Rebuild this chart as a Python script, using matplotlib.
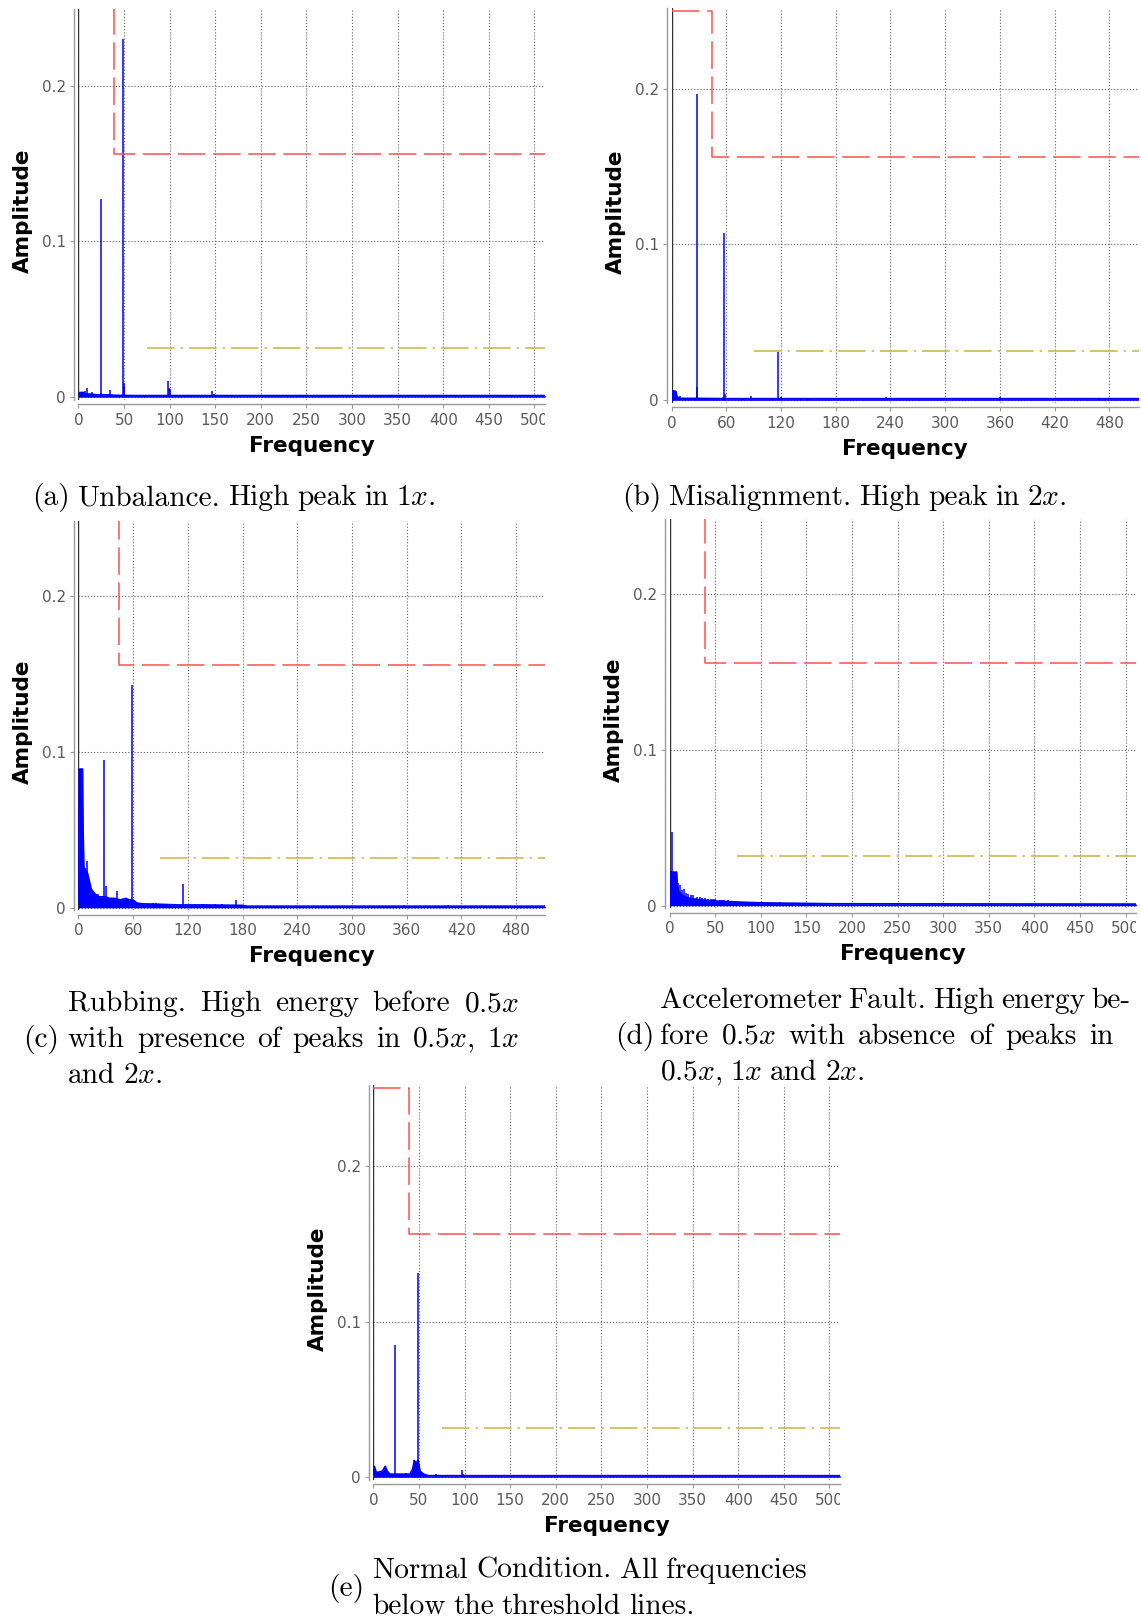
import matplotlib
matplotlib.use("Agg")
import matplotlib.pyplot as plt
from matplotlib.transforms import Bbox

plt.rcParams["mathtext.fontset"] = "cm"
plt.rcParams["font.family"] = ["DejaVu Sans"]

# ---- spectrum data (frequency in Hz, amplitude) ----
freq_max = 512

# (a) unbalance
unb_floor_f = [0, 2, 5, 8, 12, 20, 30, 40, 60, 512]
unb_floor_a = [0.002, 0.003, 0.003, 0.002, 0.002, 0.0015, 0.0015, 0.0012, 0.001, 0.001]
unb_peak_f = [3, 7, 9.8, 15, 24.3, 25.2, 33, 35, 48.6, 49.5, 50.3, 72, 73.5,
              98.7, 99.5, 100.3, 122, 147, 148.5, 197, 200, 245, 343]
unb_peak_a = [0.003, 0.004, 0.006, 0.0035, 0.127, 0.003, 0.002, 0.0045, 0.2296, 0.009, 0.0075, 0.0015, 0.0015,
              0.0107, 0.006, 0.005, 0.0015, 0.0043, 0.002, 0.0015, 0.0015, 0.0015, 0.0013]

# (b) misalignment
mis_floor_f = [0, 0.5, 4.5, 6, 10, 30, 60, 512]
mis_floor_a = [0.003, 0.0058, 0.0058, 0.002, 0.0012, 0.0012, 0.001, 0.001]
mis_peak_f = [2, 3.5, 9, 16, 20, 27.5, 28.3, 34, 48, 56, 57.7, 58.5, 78, 87,
              109, 112, 116.3, 119.8, 142, 148, 151, 235, 360.5, 469]
mis_peak_a = [0.0068, 0.006, 0.003, 0.0012, 0.0012, 0.1968, 0.0086, 0.0015, 0.0015, 0.002, 0.1073, 0.004, 0.0015, 0.003,
              0.0012, 0.0012, 0.031, 0.002, 0.0015, 0.0012, 0.0012, 0.002, 0.002, 0.0012]

# (c) rubbing
rub_floor_f = [0, 1, 4.5, 5, 6, 7.5, 10, 12, 14, 18, 22, 26, 30, 34, 40, 46, 52, 56, 60,
               64, 70, 90, 110, 140, 180, 185, 512]
rub_floor_a = [0.004, 0.089, 0.089, 0.052, 0.025, 0.025, 0.022, 0.017, 0.012, 0.009, 0.007, 0.007, 0.007,
               0.006, 0.006, 0.005, 0.006, 0.005, 0.005, 0.003, 0.0025, 0.0022, 0.0018, 0.0018, 0.0015, 0.001, 0.001]
rub_peak_f = [9.8, 21, 28.6, 29.8, 42.7, 52.5, 58.3, 82, 85, 95.5, 115, 128, 136, 150, 158, 165, 172.7, 357, 405]
rub_peak_a = [0.030, 0.009, 0.0948, 0.0137, 0.0107, 0.006, 0.143, 0.0028, 0.003, 0.0026, 0.0155,
              0.0022, 0.0022, 0.0025, 0.0025, 0.002, 0.005, 0.0015, 0.0015]

# (d) accelerometer fault
acc_floor_f = [0, 0.5, 7.8, 8.5, 10, 14, 20, 30, 45, 60, 80, 100, 140, 180, 512]
acc_floor_a = [0.003, 0.0215, 0.0215, 0.013, 0.009, 0.0065, 0.005, 0.004, 0.0032, 0.0027, 0.0022,
               0.0018, 0.0015, 0.0012, 0.001]
acc_peak_f = [1.5, 3.1, 6.7, 9, 11.8, 13.7, 16, 18.4, 20.8, 23.5, 26.3, 30.2, 33, 35.7, 39.2, 42, 45,
              47.9, 50.2, 55, 57.7, 59.7, 63.6, 66.7, 69.5, 72.6, 76, 79.3, 82, 85.2, 88.3, 91.4, 95,
              99.7, 103, 107.5, 112, 115.8, 121, 125, 130, 134.6, 139, 144, 149, 156.6, 166.8, 170.7, 220.6]
acc_peak_a = [0.0225, 0.0474, 0.0215, 0.0146, 0.0135, 0.0103, 0.0107, 0.0082, 0.0077, 0.0071, 0.0067,
              0.0056, 0.0054, 0.0049, 0.0047, 0.0045, 0.0045, 0.0045, 0.0043, 0.0039, 0.0039, 0.0035,
              0.0034, 0.003, 0.0028, 0.0028, 0.0026, 0.0026, 0.0024, 0.0024, 0.0021, 0.0021, 0.0026,
              0.0024, 0.002, 0.0018, 0.0018, 0.0018, 0.0021, 0.0018, 0.0018, 0.0018, 0.0018, 0.0018,
              0.0019, 0.0018, 0.0018, 0.0018, 0.0017]

# (e) normal condition
nor_floor_f = [0, 1, 2.5, 4, 10, 13, 15, 18, 22, 30, 40, 43, 45, 47, 49, 51, 55, 60, 512]
nor_floor_a = [0.003, 0.007, 0.004, 0.003, 0.004, 0.007, 0.004, 0.002, 0.002, 0.002, 0.002, 0.005,
               0.0106, 0.009, 0.011, 0.004, 0.002, 0.001, 0.001]
nor_peak_f = [23.9, 28, 32, 36, 44.5, 46.5, 48.6, 50.3, 69, 96.7, 98]
nor_peak_a = [0.0847, 0.002, 0.002, 0.0025, 0.0112, 0.0095, 0.131, 0.008, 0.0022, 0.0044, 0.002]

# threshold lines: red step (upper limit) and yellow dash-dot (lower limit)
red_high = 0.25
red_low = 0.156
red_split = [38.5, 44, 45, 38.6, 38.6]
yellow_level = 0.0318
yellow_start = [75, 90, 89.5, 74, 75]

tick_step = [50, 60, 60, 50, 50]
y_top = [0.249, 0.2516, 0.2483, 0.2483, 0.2515]

captions = [
    ["(a) Unbalance. High peak in 1$x$."],
    ["(b) Misalignment. High peak in 2$x$."],
    ["Rubbing. High energy before 0.5$x$", "with presence of peaks in 0.5$x$, 1$x$", "and 2$x$."],
    ["Accelerometer Fault. High energy be-", "fore 0.5$x$ with absence of peaks in", "0.5$x$, 1$x$ and 2$x$."],
    ["Normal Condition. All frequencies", "below the threshold lines."],
]
caption_tags = [None, None, "(c)", "(d)", "(e)"]

# ---- layout (pixels) ----
W, H = 1141, 1618
PX_X = 0.912     # pixels per Hz
PX_Y = 1558.0    # pixels per amplitude unit
Y_MIN = -0.0015

# pixel position of (freq 0, amplitude 0) for each panel
origin = [(78.4, 397.2), (671.6, 400.3), (78.4, 907.8), (669.5, 905.7), (373.4, 1477.3)]

BLUE = "#0000ff"
RED = "#ff5050"
YELLOW = "#c8b43c"
GRID = "#606060"
SPINE = "#9a9a9a"

fig = plt.figure(figsize=(W / 100, H / 100), dpi=100)

panels = [
    (unb_floor_f, unb_floor_a, unb_peak_f, unb_peak_a),
    (mis_floor_f, mis_floor_a, mis_peak_f, mis_peak_a),
    (rub_floor_f, rub_floor_a, rub_peak_f, rub_peak_a),
    (acc_floor_f, acc_floor_a, acc_peak_f, acc_peak_a),
    (nor_floor_f, nor_floor_a, nor_peak_f, nor_peak_a),
]

for i, (ff, fa, pf, pa) in enumerate(panels):
    x0, y0 = origin[i]
    left = x0
    right = x0 + freq_max * PX_X
    top = y0 - y_top[i] * PX_Y
    bottom = y0 - Y_MIN * PX_Y
    ax = fig.add_axes([left / W, 1 - bottom / H, (right - left) / W, (bottom - top) / H])
    ax.set_xlim(0, freq_max)
    ax.set_ylim(Y_MIN, y_top[i])

    # spectrum
    ax.fill_between(ff, 0, fa, color=BLUE, lw=0, zorder=3)
    ax.plot(ff, fa, color=BLUE, lw=1.3, zorder=3)
    ax.vlines(pf, 0, pa, color=BLUE, lw=1.1, zorder=3)

    # thresholds
    s = red_split[i]
    ax.plot([0, s, s, freq_max], [red_high, red_high, red_low, red_low],
            color=RED, lw=1.1, ls=(0, (18, 5)), zorder=4)
    ax.plot([yellow_start[i], freq_max], [yellow_level, yellow_level],
            color=YELLOW, lw=1.1, ls=(0, (18, 4, 1.5, 4)), zorder=4)

    ax.axvline(0, color="#333333", lw=1.0, zorder=2)

    step = tick_step[i]
    ax.set_xticks(list(range(0, freq_max, step)))
    ax.set_yticks([0, 0.1, 0.2])
    ax.set_yticklabels(["0", "0.1", "0.2"])
    ax.grid(True, color=GRID, lw=0.8, ls=(0, (1, 1.8)))
    ax.set_axisbelow(True)

    for side in ("top", "right"):
        ax.spines[side].set_visible(False)
    ax.spines["left"].set_position(("outward", 3))
    ax.spines["bottom"].set_position(("outward", 3.5))
    for side in ("left", "bottom"):
        ax.spines[side].set_color(SPINE)
        ax.spines[side].set_linewidth(1.0)
    ax.tick_params(colors=SPINE, labelcolor="#5a5a5a", labelsize=11, length=3, pad=3)

    # tick labels past the plot's right edge are cut off
    clip = Bbox.from_extents(0, 0, right, H)
    for lab in ax.get_xticklabels():
        lab.set_clip_box(clip)
        lab.set_clip_on(True)

    h_px = bottom - top
    ax.set_xlabel("Frequency", fontsize=15.5, fontweight="bold")
    ax.xaxis.set_label_coords(0.5, -46 / h_px)
    ax.xaxis.label.set_va("center")
    ax.set_ylabel("Amplitude", fontsize=15.5, fontweight="bold")
    ax.yaxis.set_label_coords(-56 / (right - left), 0.5 - 6 / h_px)
    ax.yaxis.label.set_va("center")

# ---- captions ----
CAP_SIZE = 21.2
CAP_FONT = dict(family="cmr10", size=CAP_SIZE, color="black")
renderer = fig.canvas.get_renderer()
MIN_GAP = 0.22 * CAP_SIZE * 100 / 72


def word_width(word):
    t = fig.text(0, 0, word, **CAP_FONT)
    w = t.get_window_extent(renderer).width
    t.remove()
    return w


def caption_block(lines, x_left, x_right, baselines, justify):
    for line, yb, just in zip(lines, baselines, justify):
        words = line.split(" ")
        widths = [word_width(w) for w in words]
        gap = 0.26 * CAP_SIZE * 100 / 72
        if just:
            gap = max(MIN_GAP, (x_right - x_left - sum(widths)) / (len(words) - 1))
        x = x_left
        for w, wd in zip(words, widths):
            fig.text(x / W, 1 - yb / H, w, va="baseline", ha="left", **CAP_FONT)
            x += wd + gap


caption_block(captions[0], 32, 0, [505], [False])
caption_block(captions[1], 622, 0, [505], [False])
caption_block(captions[2], 68, 519, [1011, 1047, 1083], [True, True, False])
caption_block(captions[3], 660, 1114, [1008, 1044, 1080], [True, True, False])
caption_block(captions[4], 372.4, 806.7, [1578, 1614], [True, False])

tag_pos = [None, None, (22.7, 1047), (615, 1044), (328, 1596)]
for tag, pos in zip(caption_tags, tag_pos):
    if tag:
        fig.text(pos[0] / W, 1 - pos[1] / H, tag, va="baseline", ha="left", **CAP_FONT)

fig.savefig("out.png", dpi=100)
